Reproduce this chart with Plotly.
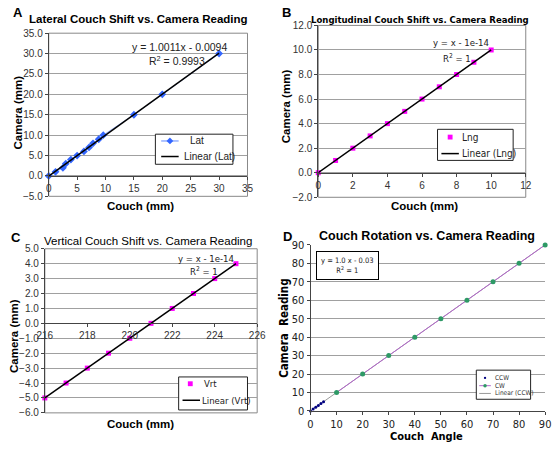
import numpy as np
import plotly.graph_objects as go

W, H = 559, 449

# ---------------- data ----------------
lat_x = [0, 1.2, 2.5, 3.0, 3.9, 5.0, 6.2, 7.1, 7.8, 8.8, 9.6, 15.0, 20.0, 30.0]
lat_y = [0, 1, 2, 3, 4, 5, 6, 7, 8, 9, 10, 15, 20, 30]

lng_x = [0, 1, 2, 3, 4, 5, 6, 7, 8, 9, 10]
lng_y = [0, 1, 2, 3, 4, 5, 6, 7, 8, 9, 10]

vrt_x = [216, 217, 218, 219, 220, 221, 222, 223, 224, 225]
vrt_y = [-5, -4, -3, -2, -1, 0, 1, 2, 3, 4]

ccw_x = [0, 1, 2, 3, 4, 5]
ccw_y = [0, 1, 2, 3, 4, 5]
cw_x = [10, 20, 30, 40, 50, 60, 70, 80, 90]
cw_y = [10, 20, 30, 40, 50, 60, 70, 80, 90]

titles = ["Lateral Couch Shift vs. Camera Reading",
          "Longitudinal Couch Shift vs. Camera Reading",
          "Vertical Couch Shift vs. Camera Reading",
          "Couch Rotation vs. Camera Reading"]
legend_a = ["Lat", "Linear (Lat)"]
legend_b = ["Lng", "Linear (Lng)"]
legend_c = ["Vrt", "Linear (Vrt)"]
legend_d = ["CCW", "CW", "Linear (CCW)"]
eq_a = ["y = 1.0011x - 0.0094", "R<sup>2</sup> = 0.9993"]
eq_b = ["y = x - 1e-14", "R<sup>2</sup> = 1"]
eq_c = ["y = x - 1e-14", "R<sup>2</sup> = 1"]
eq_d = "y = 1.0 x - 0.03<br>R<sup>2</sup> = 1"

FONT = "Liberation Sans, Arial, sans-serif"
NARROW = "DejaVu Sans Condensed, Liberation Sans, sans-serif"

C_LAT = "#3366ff"
C_MAG = "#ff00ff"
C_CCW = "#000080"
C_CW = "#2e9966"
C_CWLINE = "#b366cc"
C_TREND_D = "#9a9a9a"


def PX(x):
    return x / W


def PY(y):
    return 1 - y / H


def px_dom_x(a, b):
    return [a / W, b / W]


def px_dom_y(top, bottom):
    return [1 - bottom / H, 1 - top / H]


def fit_line(xs, ys, x0, x1):
    m, c = np.polyfit(xs, ys, 1)
    return [x0, x1], [m * x0 + c, m * x1 + c]


fig = go.Figure()

# A
tx, ty = fit_line(lat_x, lat_y, min(lat_x), max(lat_x))
fig.add_trace(go.Scatter(x=lat_x, y=lat_y, mode="markers+lines", name=legend_a[0],
                         line=dict(color=C_LAT, width=0.5),
                         marker=dict(symbol="diamond", size=6, color=C_LAT),
                         xaxis="x", yaxis="y", cliponaxis=False))
fig.add_trace(go.Scatter(x=tx, y=ty, mode="lines", name=legend_a[1],
                         line=dict(color="black", width=1.5),
                         xaxis="x", yaxis="y"))
# B
tx, ty = fit_line(lng_x, lng_y, min(lng_x), max(lng_x))
fig.add_trace(go.Scatter(x=lng_x, y=lng_y, mode="markers", name=legend_b[0],
                         marker=dict(symbol="square", size=5, color=C_MAG),
                         xaxis="x2", yaxis="y2", cliponaxis=False))
fig.add_trace(go.Scatter(x=tx, y=ty, mode="lines", name=legend_b[1],
                         line=dict(color="black", width=1.5),
                         xaxis="x2", yaxis="y2"))
# C
tx, ty = fit_line(vrt_x, vrt_y, min(vrt_x), max(vrt_x))
fig.add_trace(go.Scatter(x=vrt_x, y=vrt_y, mode="markers", name=legend_c[0],
                         marker=dict(symbol="square", size=5, color=C_MAG),
                         xaxis="x3", yaxis="y3", cliponaxis=False))
fig.add_trace(go.Scatter(x=tx, y=ty, mode="lines", name=legend_c[1],
                         line=dict(color="black", width=1.5),
                         xaxis="x3", yaxis="y3"))
# D
tx, ty = fit_line(ccw_x, ccw_y, 0, 90)
fig.add_trace(go.Scatter(x=tx, y=ty, mode="lines", name=legend_d[2],
                         line=dict(color=C_TREND_D, width=1),
                         xaxis="x4", yaxis="y4"))
fig.add_trace(go.Scatter(x=ccw_x, y=ccw_y, mode="markers", name=legend_d[0],
                         marker=dict(symbol="circle", size=3, color=C_CCW),
                         xaxis="x4", yaxis="y4", cliponaxis=False))
fig.add_trace(go.Scatter(x=cw_x, y=cw_y, mode="markers+lines", name=legend_d[1],
                         line=dict(color=C_CWLINE, width=1),
                         marker=dict(symbol="circle", size=5, color=C_CW),
                         xaxis="x4", yaxis="y4", cliponaxis=False))

# ---------------- axes ----------------
doms = {
    "A": (px_dom_x(42, 247), px_dom_y(28, 196), [0, 35], 5, [-5, 35], 5),
    "B": (px_dom_x(320, 534), px_dom_y(20, 197), [0, 12], 2, [-2, 12], 2),
    "C": (px_dom_x(38, 257), px_dom_y(250, 419), [216, 226], 2, [-6, 5], 1),
    "D": (px_dom_x(312, 554), px_dom_y(246, 417), [0, 90], 10, [0, 90], 10),
}
tickfont = dict(family=FONT, size=10, color="#333333")
layout = dict(width=W, height=H, margin=dict(l=0, r=0, t=0, b=0),
              paper_bgcolor="white", plot_bgcolor="white", showlegend=False,
              font=dict(family=FONT, color="black"))
shapes = []
for i, key in enumerate(["A", "B", "C", "D"]):
    sfx = "" if i == 0 else str(i + 1)
    xd, yd, xr, xdt, yr, ydt = doms[key]
    if key == "D":
        xpos = dict(anchor="y4")
        tf = dict(family=NARROW, size=11, color="#222222")
    else:
        frac = (0 - yr[0]) / (yr[1] - yr[0])
        xpos = dict(anchor="free", position=yd[0] + frac * (yd[1] - yd[0]))
        tf = tickfont
    layout["xaxis" + sfx] = dict(domain=xd, range=xr, dtick=xdt, tick0=xr[0],
                                 showgrid=False, zeroline=False, showline=True,
                                 linecolor="#444444", linewidth=1, ticks="outside",
                                 ticklen=3, tickcolor="#444444", tickfont=tf,
                                 **xpos)
    layout["yaxis" + sfx] = dict(domain=yd, range=yr, dtick=ydt, tick0=yr[0],
                                 anchor="x" + sfx, showgrid=True,
                                 gridcolor="#a0a0a0", gridwidth=1,
                                 zeroline=False, showline=True,
                                 linecolor="#444444", linewidth=1, ticks="outside",
                                 ticklen=3, tickcolor="#444444", tickfont=tf,
                                 tickformat=".1f" if key != "D" else "d")
    if key != "D":
        shapes.append(dict(type="rect", xref="x%s domain" % sfx,
                           yref="y%s domain" % sfx, x0=0, x1=1, y0=0, y1=1,
                           line=dict(color="#888888", width=1), layer="below"))

ann = []


def text(x, y, t, size=11, bold=False, angle=0, fam=FONT, color="black",
         xanchor="center", **kw):
    if bold:
        t = "<b>%s</b>" % t
    ann.append(dict(x=PX(x), y=PY(y), xref="paper", yref="paper", text=t,
                    showarrow=False, textangle=angle,
                    font=dict(family=fam, size=size, color=color),
                    xanchor=xanchor, yanchor="middle", **kw))


# ---------------- hand-drawn legends (Excel-style boxes) ----------------
def box(x0, y0, x1, y1):
    shapes.append(dict(type="rect", xref="paper", yref="paper",
                       x0=PX(x0), x1=PX(x1), y0=PY(y1), y1=PY(y0),
                       line=dict(color="#222222", width=1), fillcolor="white",
                       layer="above"))


def key_line(x0, x1, y, color, width):
    shapes.append(dict(type="line", xref="paper", yref="paper",
                       x0=PX(x0), x1=PX(x1), y0=PY(y), y1=PY(y),
                       line=dict(color=color, width=width), layer="above"))


def key_marker(x, y, kind, r, color):
    if kind == "square":
        shapes.append(dict(type="rect", xref="paper", yref="paper",
                           x0=PX(x - r), x1=PX(x + r), y0=PY(y + r), y1=PY(y - r),
                           line=dict(width=0), fillcolor=color, layer="above"))
    elif kind == "circle":
        shapes.append(dict(type="circle", xref="paper", yref="paper",
                           x0=PX(x - r), x1=PX(x + r), y0=PY(y + r), y1=PY(y - r),
                           line=dict(width=0), fillcolor=color, layer="above"))
    else:  # diamond
        p = "M %f,%f L %f,%f L %f,%f L %f,%f Z" % (
            PX(x), PY(y - r), PX(x + r), PY(y), PX(x), PY(y + r), PX(x - r), PY(y))
        shapes.append(dict(type="path", xref="paper", yref="paper", path=p,
                           line=dict(width=0), fillcolor=color, layer="above"))


# A legend
box(152, 132, 232, 163)
key_line(158, 176, 139, C_LAT, 0.8)
key_marker(167, 139, "diamond", 3.5, C_LAT)
key_line(158, 176, 155, "black", 1.5)
text(186, 139, legend_a[0], 10, xanchor="left", color="#222222")
text(179, 155, legend_a[1], 10, xanchor="left", color="#222222")
# B legend
box(443, 127, 521, 159)
key_marker(456, 135, "square", 2.5, C_MAG)
key_line(447, 465, 152, "black", 1.5)
text(466, 135, legend_b[0], 10, xanchor="left", fam=NARROW, color="#222222")
text(466, 152, legend_b[1], 10, xanchor="left", fam=NARROW, color="#222222")
# C legend
box(176, 382, 247, 416)
key_marker(188, 389, "square", 2.5, C_MAG)
key_line(180, 198, 406, "black", 1.5)
text(200, 389, legend_c[0], 9.5, xanchor="left", fam=NARROW, color="#222222")
text(198, 406, legend_c[1], 9.5, xanchor="left", fam=NARROW, color="#222222")
# D legend
box(483, 375, 539, 405)
key_marker(492, 383, "circle", 1.2, C_CCW)
key_line(486, 498, 391, C_CWLINE, 1)
key_marker(492, 391, "circle", 1.8, C_CW)
key_line(486, 498, 399, C_TREND_D, 1)
text(500, 383, legend_d[0], 6.5, xanchor="left", fam=NARROW, color="#333333")
text(500, 391, legend_d[1], 6.5, xanchor="left", fam=NARROW, color="#333333")
text(500, 399, legend_d[2], 6.5, xanchor="left", fam=NARROW, color="#333333")

layout["shapes"] = shapes

# ---------------- annotations ----------------
# panel letters
text(10, 7, "A", 13, True)
text(287, 7, "B", 13, True)
text(8, 238, "C", 13, True)
text(288, 237, "D", 13, True)
# titles
text(135, 13, titles[0], 11.5, True)
text(425, 14, titles[1], 9.5, True, fam=NARROW)
text(144, 242, titles[2], 11.5, False)
text(432, 237, titles[3], 12.5, True)
# axis titles
text(137, 206, "Couch (mm)", 11.5, True)
text(430, 206, "Couch (mm)", 11.5, True)
text(137, 430, "Couch (mm)", 11.5, True)
text(432, 443, "Couch  Angle", 11, True, fam=NARROW)
text(10, 110, "Camera (mm)", 11.5, True, angle=-90)
text(287, 103, "Camera (mm)", 11.5, True, angle=-90)
text(6, 340, "Camera (mm)", 11.5, True, angle=-90)
text(285, 332, "Camera  Reading", 11.5, True, angle=-90, fam=NARROW)
# equations
text(177, 42, eq_a[0], 10.5, color="#222222")
text(174, 56, eq_a[1], 10.5, color="#222222")
text(467, 38, eq_b[0], 9.5, fam=NARROW, color="#222222")
text(463, 54, eq_b[1], 9.5, fam=NARROW, color="#222222")
text(204, 260, eq_c[0], 9.5, fam=NARROW, color="#222222")
text(202, 273, eq_c[1], 9.5, fam=NARROW, color="#222222")
text(350, 267, eq_d, 7.5, fam=NARROW, color="#222222",
     bordercolor="black", borderwidth=1, borderpad=4, bgcolor="white")

layout["annotations"] = ann
fig.update_layout(**layout)
fig.write_html("out.html", config={"displayModeBar": False},
               post_script="document.body.style.margin='0';"
                           "document.body.style.overflow='hidden';")
